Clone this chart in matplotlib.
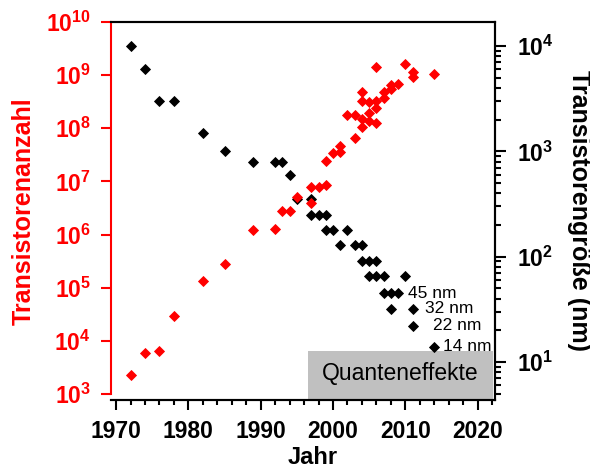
import math
import matplotlib
matplotlib.use("Agg")
import matplotlib.pyplot as plt
from matplotlib.ticker import MultipleLocator, FuncFormatter, LogLocator, NullLocator, NullFormatter
import matplotlib.patches as patches

plt.rcParams['font.family'] = ['Liberation Sans', 'DejaVu Sans']
plt.rcParams['mathtext.fontset'] = 'custom'
plt.rcParams['mathtext.rm'] = 'Liberation Sans'
plt.rcParams['mathtext.bf'] = 'Liberation Sans:bold'

# Transistoranzahl (rot, linke Achse)
count_years = [1972, 1974, 1976, 1978, 1982, 1985, 1989, 1992, 1993, 1994,
               1995, 1997, 1997, 1998, 1999, 1999, 2000, 2001, 2001, 2003,
               2002, 2003, 2004, 2004, 2005, 2005, 2006, 2006, 2006, 2004,
               2004, 2005, 2007, 2007, 2008, 2008, 2009, 2006, 2010, 2011,
               2011, 2014]
counts = [2300, 6000, 6500, 29000, 134000, 275000, 1.2e6, 1.3e6, 2.8e6, 2.8e6,
          5.0e6, 4.0e6, 8.0e6, 8.0e6, 8.5e6, 2.4e7, 3.5e7, 3.6e7, 4.7e7, 6.5e7,
          1.8e8, 1.8e8, 1.5e8, 1.05e8, 1.4e8, 1.9e8, 1.25e8, 2.4e8, 3.2e8, 3.3e8,
          4.8e8, 3.1e8, 3.7e8, 4.8e8, 5.6e8, 6.5e8, 6.7e8, 1.4e9, 1.6e9, 1.13e9,
          9.4e8, 1.05e9]

# Strukturgröße in nm (schwarz, rechte Achse)
size_years = [1972, 1974, 1976, 1978, 1982, 1985, 1989, 1992, 1993, 1994,
              1995, 1997, 1997, 1998, 1999, 1999, 2000, 2002, 2001, 2003,
              2004, 2004, 2005, 2006, 2005, 2006, 2007, 2010, 2007, 2008,
              2009, 2008, 2011, 2011, 2014]
sizes = [10000, 6000, 3000, 3000, 1500, 1000, 800, 800, 800, 600,
         350, 350, 250, 250, 250, 180, 180, 180, 130, 130,
         130, 90, 90, 90, 65, 65, 65, 65, 45, 45,
         45, 32, 32, 22, 14]

node_labels = ['45 nm', '32 nm', '22 nm', '14 nm']
node_years = [2009, 2011, 2011, 2014]
node_sizes = [45, 32, 22, 14]
node_offsets = [7, 9, 15, 6]   # Punkte nach rechts

year_ticks = [1970, 1980, 1990, 2000, 2010, 2020]

fig = plt.figure(figsize=(5.9, 4.68), dpi=100)
ax = fig.add_axes([111/590, 1 - 400/468, 384/590, 378/468])
ax2 = ax.twinx()

# linke Achse oben zeichnen, damit rote Punkte über schwarzen liegen
ax.set_zorder(ax2.get_zorder() + 1)
ax.patch.set_visible(False)

ax.plot(count_years, counts, 'D', color='red', ms=4.6, mec='red', mew=0.6, zorder=3)
ax2.plot(size_years, sizes, 'D', color='black', ms=4.6, mec='black', mew=0.6, zorder=3)

ax.set_yscale('log')
ax2.set_yscale('log')
ax.set_xlim(1969.3, 2022.4)
ax.set_ylim(10**2.887, 1e10)
ax2.set_ylim(10**0.639, 10**4.228)

fmt = FuncFormatter(lambda v, p: r'$\mathbf{10^{%d}}$' % round(math.log10(v)))

# linke Achse
ax.yaxis.set_major_locator(LogLocator(base=10, numticks=20))
ax.yaxis.set_minor_locator(NullLocator())
ax.yaxis.set_major_formatter(fmt)
ax.tick_params(axis='y', colors='red', length=7.5, width=1.5, pad=7, labelsize=16.5)
ax.spines['left'].set_color('red')
ax.spines['left'].set_linewidth(1.5)
ax.spines['left'].set_bounds(1e3, 1e10)

# x-Achse
ax.xaxis.set_minor_locator(MultipleLocator(2))
ax.set_xticks(year_ticks)
ax.set_xticklabels([str(y) for y in year_ticks], fontweight='bold')
ax.tick_params(axis='x', which='major', length=7.5, width=1.5, pad=7, labelsize=16.5)
ax.tick_params(axis='x', which='minor', length=3.8, width=1.5)
for s in ['top', 'bottom', 'right']:
    ax.spines[s].set_linewidth(1.5)

# rechte Achse
ax2.yaxis.set_major_locator(LogLocator(base=10, numticks=20))
ax2.yaxis.set_minor_locator(LogLocator(base=10, subs=range(2, 10), numticks=20))
ax2.yaxis.set_major_formatter(fmt)
ax2.yaxis.set_minor_formatter(NullFormatter())
ax2.tick_params(axis='y', which='major', length=8, width=1.5, pad=8, labelsize=16.5)
ax2.tick_params(axis='y', which='minor', length=4.3, width=1.5)
ax2.spines['left'].set_visible(False)
for s in ['top', 'bottom', 'right']:
    ax2.spines[s].set_linewidth(1.5)

# Beschriftung der Technologieknoten
for lab, yr, sz, off in zip(node_labels, node_years, node_sizes, node_offsets):
    ax2.annotate(lab, xy=(yr, sz), xytext=(off, 0), textcoords='offset points',
                 ha='left', va='center', fontsize=12.5)

# grauer Kasten
box = patches.Rectangle((0.513, 0.0), 0.482, 0.13, transform=ax2.transAxes,
                        facecolor='#c0c0c0', edgecolor='none', zorder=1)
ax2.add_patch(box)
ax2.text(0.753, 0.071, 'Quanteneffekte', transform=ax2.transAxes,
         ha='center', va='center', fontsize=16.5, zorder=2)

fig.text(24/590, 1 - 211/468, 'Transistorenanzahl', rotation=90, color='red',
         ha='center', va='center', fontsize=18, fontweight='bold')
fig.text(579/590, 1 - 211/468, 'Transistorengröße (nm)', rotation=-90,
         ha='center', va='center', fontsize=18, fontweight='bold')
fig.text(313/590, 4/468, 'Jahr', ha='center', va='baseline',
         fontsize=17, fontweight='bold')

fig.savefig('out.png', dpi=100)
